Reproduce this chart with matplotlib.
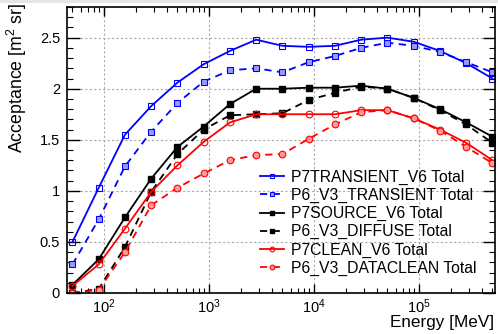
import numpy as np
import matplotlib
matplotlib.use("Agg")
import matplotlib.pyplot as plt
from matplotlib.ticker import LogLocator, MultipleLocator, FixedLocator, NullFormatter
from matplotlib.patches import Rectangle

plt.rcParams['font.family'] = ['Liberation Sans', 'DejaVu Sans']
plt.rcParams['mathtext.fontset'] = 'custom'
plt.rcParams['mathtext.rm'] = 'Liberation Sans'
plt.rcParams['mathtext.it'] = 'Liberation Sans'

# log10(Energy / MeV) bin centres
log_energy = [1.70, 1.95, 2.20, 2.45, 2.70, 2.95, 3.20, 3.45, 3.70,
              3.95, 4.20, 4.45, 4.70, 4.95, 5.20, 5.45, 5.70]

p7_transient = [0.50, 1.03, 1.55, 1.83, 2.06, 2.24, 2.37, 2.48, 2.42,
                2.41, 2.42, 2.48, 2.50, 2.46, 2.37, 2.25, 2.10]
p6_transient = [0.28, 0.72, 1.24, 1.58, 1.86, 2.07, 2.18, 2.20, 2.16,
                2.26, 2.32, 2.40, 2.45, 2.42, 2.36, 2.26, 2.16]
p7_source = [0.08, 0.33, 0.74, 1.12, 1.43, 1.63, 1.85, 2.00, 2.00,
             2.01, 2.01, 2.03, 2.00, 1.91, 1.80, 1.67, 1.53]
p6_diffuse = [0.00, 0.04, 0.45, 0.99, 1.36, 1.60, 1.74, 1.75, 1.76,
              1.89, 1.96, 2.02, 2.00, 1.91, 1.79, 1.65, 1.47]
p7_clean = [0.07, 0.28, 0.63, 0.99, 1.25, 1.48, 1.67, 1.75, 1.75,
            1.75, 1.75, 1.79, 1.79, 1.71, 1.60, 1.47, 1.30]
p6_dataclean = [0.00, 0.03, 0.40, 0.86, 1.03, 1.17, 1.30, 1.35, 1.36,
                1.51, 1.65, 1.77, 1.79, 1.71, 1.59, 1.43, 1.27]

labels = ["P7TRANSIENT_V6 Total", "P6_V3_TRANSIENT Total", "P7SOURCE_V6 Total",
          "P6_V3_DIFFUSE Total", "P7CLEAN_V6 Total", "P6_V3_DATACLEAN Total"]

energy = 10 ** np.array(log_energy)

fig = plt.figure(figsize=(4.98, 3.34), dpi=100)
fig.patches.append(Rectangle((0, 1 - 3 / 334), 1, 3 / 334, transform=fig.transFigure,
                             facecolor='#e6e6e6', edgecolor='none', zorder=0))
ax = fig.add_axes([67 / 498, 41 / 334, 428 / 498, 286 / 334])

blue = '#0000ff'
red = '#ff0000'
black = '#000000'
ms = 4.8
lw = 1.3

ax.plot(energy, p7_transient, '-', color=blue, lw=lw, marker='s', ms=ms,
        mfc='none', mec=blue, mew=0.8, label=labels[0])
ax.plot(energy, p6_transient, '--', color=blue, lw=lw, marker='s', ms=ms,
        mfc='#9999ff', mec=blue, mew=0.8, dashes=(4, 3), label=labels[1])
ax.plot(energy, p7_source, '-', color=black, lw=lw, marker='s', ms=ms,
        mfc=black, mec=black, label=labels[2])
ax.plot(energy, p6_diffuse, '--', color=black, lw=lw, marker='s', ms=ms,
        mfc=black, mec=black, dashes=(4, 3), label=labels[3])
ax.plot(energy, p7_clean, '-', color=red, lw=lw, marker='o', ms=ms,
        mfc='none', mec=red, mew=0.8, label=labels[4])
ax.plot(energy, p6_dataclean, '--', color=red, lw=lw, marker='o', ms=ms,
        mfc='#ff9999', mec=red, mew=0.8, dashes=(4, 3), label=labels[5])

ax.set_xscale('log')
ax.set_xlim(10 ** 1.648, 10 ** 5.724)
ax.set_ylim(0, 2.8)

ax.yaxis.set_major_locator(FixedLocator([0, 0.5, 1, 1.5, 2, 2.5]))
ax.yaxis.set_major_formatter(matplotlib.ticker.FuncFormatter(
    lambda v, p: '0' if v == 0 else ('%g' % v)))
ax.yaxis.set_minor_locator(MultipleLocator(0.1))
ax.xaxis.set_major_locator(LogLocator(base=10, numticks=10))
ax.xaxis.set_minor_locator(LogLocator(base=10, subs=np.arange(2, 10), numticks=20))
ax.xaxis.set_minor_formatter(NullFormatter())

ax.tick_params(axis='both', which='both', direction='in', top=True, right=True,
               colors='black', labelsize=10.5)
ax.tick_params(axis='y', which='major', length=9, width=1.0, pad=5)
ax.tick_params(axis='y', which='minor', length=4.5, width=0.8)
ax.tick_params(axis='x', which='major', length=6.3, width=1.0, pad=3)
ax.tick_params(axis='x', which='minor', length=3.5, width=0.8)
for s in ax.spines.values():
    s.set_linewidth(1.2)

ax.grid(True, which='major', color='#aaaaaa', linestyle=(0, (2, 2)), lw=0.8)
ax.set_axisbelow(True)

leg = ax.legend(loc='lower left', bbox_to_anchor=(193 / 428, 17 / 286), frameon=False,
                fontsize=11.3, handlelength=1.5, handletextpad=0.5,
                labelspacing=0.2, borderaxespad=0, borderpad=0, markerscale=0.7)

fig.text(17 / 498, 1 - 3 / 334, 'Acceptance [m$^{2}$ sr]', rotation=90,
         ha='center', va='top', fontsize=12.8)
fig.text(494 / 498, 1 - 323 / 334, 'Energy [MeV]', ha='right', va='center', fontsize=12.3)

fig.savefig('out.png', dpi=100)
